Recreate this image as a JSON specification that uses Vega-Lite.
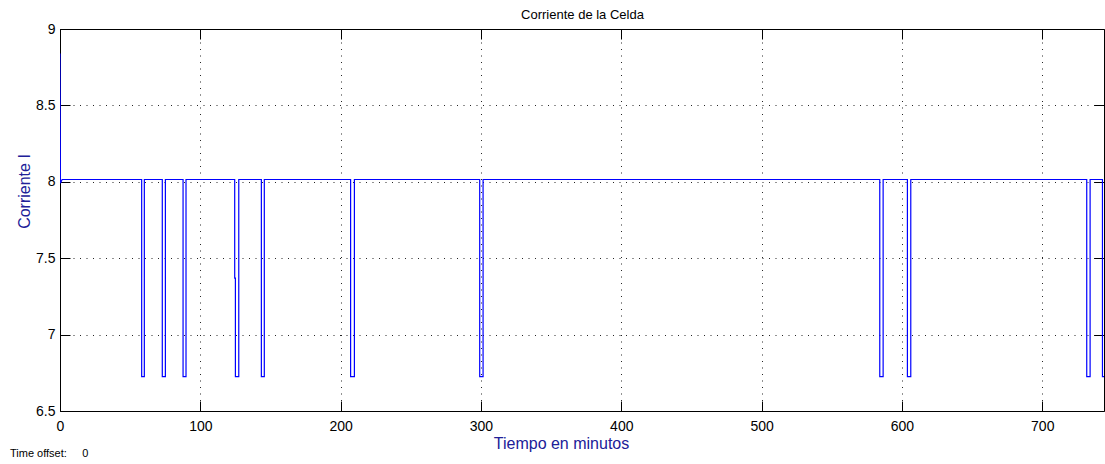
{
  "$schema": "https://vega.github.io/schema/vega-lite/v6.json",
  "width": 1044,
  "height": 382,
  "autosize": "none",
  "padding": {"left": 60, "top": 29, "right": 1, "bottom": 53},
  "background": "white",
  "config": {
    "view": {"stroke": "#000000", "strokeWidth": 1},
    "axis": {"labelFont": "Liberation Sans", "titleFont": "Liberation Sans", "labelColor": "#000000"}
  },
  "title": {
    "text": "Time offset:\u00a0\u00a0\u00a0\u00a0 0",
    "orient": "bottom",
    "anchor": "start",
    "frame": "group",
    "font": "Liberation Sans",
    "fontSize": 11,
    "fontWeight": "normal",
    "color": "#000000",
    "dx": -50,
    "offset": -3
  },
  "data": {
    "values": [
      {"i": 0, "t": 0, "I": 8.84},
      {"i": 1, "t": 0.3, "I": 7.99},
      {"i": 2, "t": 1.5, "I": 8.015},
      {"i": 3, "t": 58.2, "I": 8.015},
      {"i": 4, "t": 58.2, "I": 6.725},
      {"i": 5, "t": 60.1, "I": 6.725},
      {"i": 6, "t": 60.1, "I": 8.015},
      {"i": 7, "t": 72.9, "I": 8.015},
      {"i": 8, "t": 72.9, "I": 6.725},
      {"i": 9, "t": 75.1, "I": 6.725},
      {"i": 10, "t": 75.1, "I": 8.015},
      {"i": 11, "t": 87.7, "I": 8.015},
      {"i": 12, "t": 87.7, "I": 6.725},
      {"i": 13, "t": 89.8, "I": 6.725},
      {"i": 14, "t": 89.8, "I": 8.015},
      {"i": 15, "t": 124.5, "I": 8.015},
      {"i": 16, "t": 124.5, "I": 7.37},
      {"i": 17, "t": 125.0, "I": 7.37},
      {"i": 18, "t": 125.0, "I": 6.725},
      {"i": 19, "t": 127.4, "I": 6.725},
      {"i": 20, "t": 127.4, "I": 8.015},
      {"i": 21, "t": 143.5, "I": 8.015},
      {"i": 22, "t": 143.5, "I": 6.725},
      {"i": 23, "t": 145.6, "I": 6.725},
      {"i": 24, "t": 145.6, "I": 8.015},
      {"i": 25, "t": 207.1, "I": 8.015},
      {"i": 26, "t": 207.1, "I": 6.725},
      {"i": 27, "t": 209.8, "I": 6.725},
      {"i": 28, "t": 209.8, "I": 8.015},
      {"i": 29, "t": 299.1, "I": 8.015},
      {"i": 30, "t": 299.1, "I": 6.725},
      {"i": 31, "t": 301.5, "I": 6.725},
      {"i": 32, "t": 301.5, "I": 8.015},
      {"i": 33, "t": 584.2, "I": 8.015},
      {"i": 34, "t": 584.2, "I": 6.725},
      {"i": 35, "t": 586.6, "I": 6.725},
      {"i": 36, "t": 586.6, "I": 8.015},
      {"i": 37, "t": 603.9, "I": 8.015},
      {"i": 38, "t": 603.9, "I": 6.725},
      {"i": 39, "t": 606.3, "I": 6.725},
      {"i": 40, "t": 606.3, "I": 8.015},
      {"i": 41, "t": 731.7, "I": 8.015},
      {"i": 42, "t": 731.7, "I": 6.725},
      {"i": 43, "t": 734.1, "I": 6.725},
      {"i": 44, "t": 734.1, "I": 8.015},
      {"i": 45, "t": 742.9, "I": 8.015},
      {"i": 46, "t": 742.9, "I": 6.725},
      {"i": 47, "t": 744, "I": 6.725}
    ]
  },
  "layer": [
    {
      "mark": {"type": "line", "color": "#0000ff", "strokeWidth": 1.2, "clip": true},
      "encoding": {
        "x": {
          "field": "t", "type": "quantitative",
          "scale": {"domain": [0, 744], "nice": false, "zero": false},
          "axis": {
            "orient": "bottom",
            "values": [0, 100, 200, 300, 400, 500, 600, 700],
            "format": "d",
            "title": "Tiempo en minutos",
            "titleColor": "#202098",
            "titleFontSize": 16,
            "titleFontWeight": "normal",
            "titleX": 501,
            "titleY": 37,
            "titleBaseline": "alphabetic",
            "labelFontSize": 14,
            "labelPadding": 18,
            "labelFlush": false,
            "tickSize": -10,
            "tickColor": "#000000",
            "domain": false,
            "grid": true,
            "gridColor": "#000000",
            "gridDash": [1, 5.5],
            "gridOpacity": 0.85
          }
        },
        "y": {
          "field": "I", "type": "quantitative",
          "scale": {"domain": [6.5, 9], "nice": false, "zero": false},
          "axis": {
            "orient": "left",
            "values": [6.5, 7, 7.5, 8, 8.5, 9],
            "format": "~g",
            "title": "Corriente I",
            "titleColor": "#202098",
            "titleFontSize": 16,
            "titleFontWeight": "normal",
            "titleX": -31,
            "titleY": 162,
            "titleAngle": -90,
            "titleAlign": "center",
            "titleBaseline": "alphabetic",
            "labelFontSize": 14,
            "labelPadding": 15,
            "labelFlush": false,
            "tickSize": -10,
            "tickColor": "#000000",
            "domain": false,
            "grid": true,
            "gridColor": "#000000",
            "gridDash": [1, 5.5],
            "gridOpacity": 0.85
          }
        },
        "order": {"field": "i", "type": "quantitative"}
      }
    },
    {
      "mark": {"type": "line", "opacity": 0},
      "encoding": {
        "x": {
          "field": "t", "type": "quantitative",
          "axis": {
            "orient": "top",
            "values": [0, 100, 200, 300, 400, 500, 600, 700],
            "labels": false,
            "tickSize": -10,
            "tickColor": "#000000",
            "domain": false,
            "grid": false,
            "title": "Corriente de la Celda",
            "titleFontSize": 13,
            "titleFontWeight": "normal",
            "titleColor": "#000000",
            "titlePadding": 7
          }
        },
        "y": {
          "field": "I", "type": "quantitative",
          "axis": {
            "orient": "right",
            "values": [6.5, 7, 7.5, 8, 8.5, 9],
            "labels": false,
            "tickSize": -10,
            "tickColor": "#000000",
            "domain": false,
            "grid": false,
            "title": null
          }
        },
        "order": {"field": "i", "type": "quantitative"}
      }
    }
  ],
  "resolve": {"axis": {"x": "independent", "y": "independent"}}
}
